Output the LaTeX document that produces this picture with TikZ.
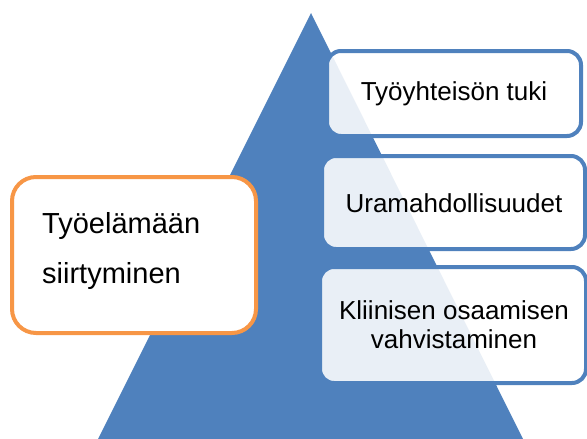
\documentclass[tikz,border=0pt]{standalone}
\usepackage{fontspec}
\setmainfont{Liberation Sans}
\definecolor{triblue}{HTML}{4F81BD}
\definecolor{orng}{HTML}{F79646}
\begin{document}
\begin{tikzpicture}[x=1pt,y=-1pt,
  bluebox/.style={draw=triblue, line width=4pt, fill=white, fill opacity=0.88, text opacity=1, rounded corners=14pt},
  orangebox/.style={draw=orng, line width=4pt, fill=white, rounded corners=24pt},
  lbl/.style={font=\fontsize{26}{29}\selectfont, align=center, inner sep=0pt},
  biglbl/.style={font=\fontsize{29}{50}\selectfont, inner sep=0pt, anchor=base west}]
\useasboundingbox (0,0) rectangle (587,439);
\fill[triblue] (311,13) -- (98,439) -- (523,439) -- cycle;
\draw[bluebox] (327,51) rectangle (581,136);
\draw[bluebox] (322,156) rectangle (585,249);
\draw[bluebox] (320,267) rectangle (586,383);
\node[lbl] (t1) at (454,94) {Työyhteisön tuki};
\node[lbl] (t2) at (454,203) {Uramahdollisuudet};
\node[lbl] (t3) at (454,325) {Kliinisen osaamisen\\vahvistaminen};
\draw[orangebox] (12,177) rectangle (256,333);
\node[biglbl] (l1) at (42,233) {Työelämään};
\node[biglbl] (l2) at (42,283) {siirtyminen};
\end{tikzpicture}
\end{document}
